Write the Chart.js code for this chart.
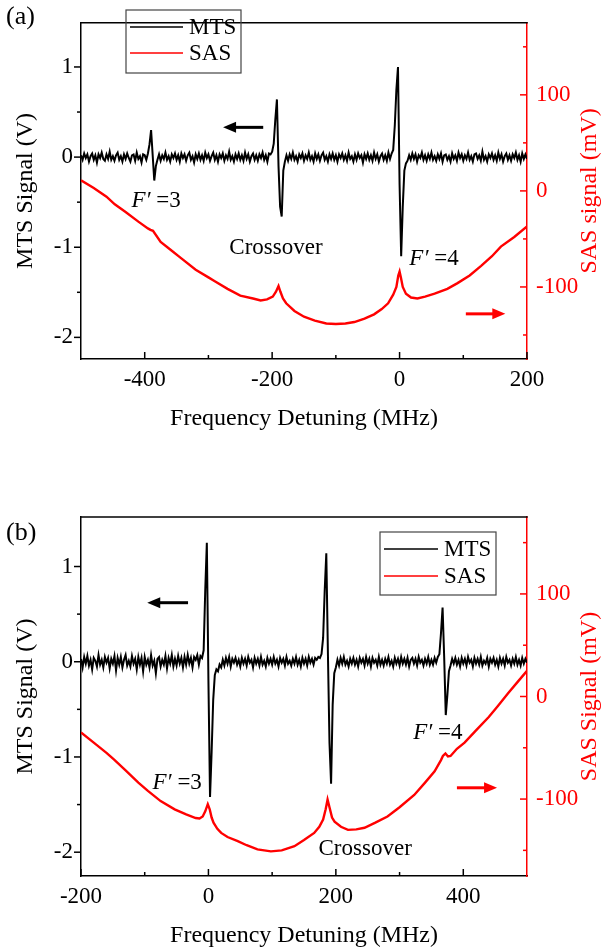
<!DOCTYPE html>
<html>
<head>
<meta charset="utf-8">
<script src="https://cdn.jsdelivr.net/npm/chart.js@4.4.1/dist/chart.umd.min.js"></script>
<style>
  html, body { margin: 0; padding: 0; background: #fff; }
  #wrap { position: relative; width: 602px; height: 951px; }
  canvas { position: absolute; left: 0; }
  #chartA { top: 0; }
  #chartB { top: 480px; }
</style>
</head>
<body>
<div id="wrap">
  <canvas id="chartA" width="602" height="480"></canvas>
  <canvas id="chartB" width="602" height="471"></canvas>
</div>
<script>
const FONT = '"Liberation Serif", "Times New Roman", serif';

// ---- panel (a) ----
const xTicksA = [-400, -200, 0, 200];
const xMinorA = [-300, -100, 100];

const mtsFreqA = [
  -500,-497.5,-495,-492.5,-490,-487.5,-485,-482.5,-480,-477.5,-475,-472.5,-470,-467.5,-465,-462.5,-460,-457.5,-455,-452.5,
  -450,-447.5,-445,-442.5,-440,-437.5,-435,-432.5,-430,-427.5,-425,-422.5,-420,-417.5,-415,-412.5,-410,-407.5,-405,-402.5,
  -400,-397.5,-395,-392.5,-390,-387.5,-385,-382.5,-380,-377.5,-375,-372.5,-370,-367.5,-365,-362.5,-360,-357.5,-355,-352.5,
  -350,-347.5,-345,-342.5,-340,-337.5,-335,-332.5,-330,-327.5,-325,-322.5,-320,-317.5,-315,-312.5,-310,-307.5,-305,-302.5,
  -300,-297.5,-295,-292.5,-290,-287.5,-285,-282.5,-280,-277.5,-275,-272.5,-270,-267.5,-265,-262.5,-260,-257.5,-255,-252.5,
  -250,-247.5,-245,-242.5,-240,-237.5,-235,-232.5,-230,-227.5,-225,-222.5,-220,-217.5,-215,-212.5,-210,-207.5,-205,-202.5,
  -200,-197.5,-195,-192.5,-190,-187.5,-185,-182.5,-180,-177.5,-175,-172.5,-170,-167.5,-165,-162.5,-160,-157.5,-155,-152.5,
  -150,-147.5,-145,-142.5,-140,-137.5,-135,-132.5,-130,-127.5,-125,-122.5,-120,-117.5,-115,-112.5,-110,-107.5,-105,-102.5,
  -100,-97.5,-95,-92.5,-90,-87.5,-85,-82.5,-80,-77.5,-75,-72.5,-70,-67.5,-65,-62.5,-60,-57.5,-55,-52.5,
  -50,-47.5,-45,-42.5,-40,-37.5,-35,-32.5,-30,-27.5,-25,-22.5,-20,-17.5,-15,-12.5,-10,-7.5,-5,-2.5,
  0,2.5,5,7.5,10,12.5,15,17.5,20,22.5,25,27.5,30,32.5,35,37.5,40,42.5,45,47.5,
  50,52.5,55,57.5,60,62.5,65,67.5,70,72.5,75,77.5,80,82.5,85,87.5,90,92.5,95,97.5,
  100,102.5,105,107.5,110,112.5,115,117.5,120,122.5,125,127.5,130,132.5,135,137.5,140,142.5,145,147.5,
  150,152.5,155,157.5,160,162.5,165,167.5,170,172.5,175,177.5,180,182.5,185,187.5,190,192.5,195,197.5,
  200
];
const mtsA = [
  0.02,-0.03,0.04,-0.01,0.03,-0.05,0.01,0.04,-0.03,0.02,-0.06,0.03,-0.01,0.05,-0.02,-0.04,0.03,-0.02,0.06,-0.03,
  0.01,-0.04,0.02,0.05,-0.03,0.01,-0.05,0.03,-0.02,0.04,-0.01,-0.05,0.02,0.03,-0.04,0.05,-0.02,0.01,-0.06,0.03,
  0.02,-0.03,0.04,0.14,0.30,0.02,-0.26,-0.10,-0.03,0.03,-0.04,0.02,-0.02,0.05,-0.03,0.01,-0.05,0.03,-0.01,0.04,
  -0.03,0.02,-0.05,0.04,-0.01,0.03,-0.04,0.02,0.05,-0.03,0.01,-0.06,0.03,-0.02,0.04,-0.03,0.02,-0.04,0.05,-0.01,
  0.03,-0.04,0.01,0.05,-0.03,0.02,-0.05,0.03,-0.01,0.04,-0.04,0.02,-0.02,0.06,-0.03,0.01,-0.05,0.03,-0.02,0.04,
  -0.03,0.02,-0.04,0.05,-0.02,0.03,-0.05,0.01,0.04,-0.03,0.02,-0.04,0.03,-0.01,0.05,-0.03,0.02,-0.05,0.04,0.03,
  0.06,0.15,0.42,0.64,-0.10,-0.55,-0.66,-0.15,-0.05,0.02,-0.04,0.03,-0.02,0.05,-0.03,0.01,-0.05,0.03,-0.01,0.04,
  -0.04,0.02,-0.02,0.05,-0.03,0.01,-0.05,0.04,-0.02,0.03,-0.04,0.02,0.05,-0.03,0.01,-0.05,0.03,-0.02,0.04,-0.03,
  0.02,-0.05,0.03,-0.01,0.04,-0.03,0.02,-0.04,0.05,-0.02,0.01,-0.05,0.03,-0.03,0.04,-0.01,0.02,-0.06,0.03,-0.02,
  0.04,-0.03,0.02,-0.04,0.05,-0.02,0.03,-0.05,0.01,0.04,-0.03,0.02,-0.04,0.05,-0.02,0.04,0.08,0.35,0.75,1.00,
  -0.30,-1.10,-0.55,-0.15,-0.07,-0.04,0.02,-0.03,0.04,-0.02,0.03,-0.05,0.02,-0.01,0.05,-0.03,0.02,-0.04,0.03,-0.02,
  0.05,-0.03,0.01,-0.04,0.03,-0.02,0.04,-0.05,0.02,0.03,-0.03,0.01,-0.05,0.04,-0.02,0.02,-0.04,0.05,-0.01,0.03,
  -0.04,0.02,-0.02,0.05,-0.03,0.01,-0.05,0.03,0.04,-0.02,0.02,-0.04,0.06,-0.03,0.01,-0.05,0.03,-0.01,0.04,-0.03,
  0.02,-0.04,0.05,-0.02,0.03,-0.05,0.01,0.04,-0.03,0.02,-0.04,0.03,-0.01,0.05,-0.03,0.02,-0.05,0.04,-0.02,0.03,
  -0.02
];

const sasFreqA = [-500,-480,-460,-447,-430,-410,-395,-391,-387,-375,-360,-343,-320,-300,-290,-270,-250,-230,-218,-208,
  -199,-194,-190,-187,-183,-178,-165,-150,-133,-115,-100,-85,-71,-55,-40,-28,-18,-10,-5,-2,
  0,2,5,10,18,28,40,55,75,91,110,128,145,159,180,200];
const sasA = [11,3,-6,-14,-22,-32,-39,-40.5,-41.5,-53,-61,-70,-82,-90,-94,-102,-109,-112,-114,-113,
  -110,-105,-99,-105,-112,-117,-125,-131,-135,-138,-138.5,-138,-136.5,-133,-128.5,-123,-117,-108,-100,-88,
  -84,-90,-100,-107,-111,-112,-110,-107,-102,-96,-88,-78,-68,-58,-48,-37];

// ---- panel (b) ----
const xTicksB = [-200, 0, 200, 400];
const xMinorB = [-100, 100, 300];

const mtsFreqB = [
  -200,-197.5,-195,-192.5,-190,-187.5,-185,-182.5,-180,-177.5,-175,-172.5,-170,-167.5,-165,-162.5,-160,-157.5,-155,-152.5,
  -150,-147.5,-145,-142.5,-140,-137.5,-135,-132.5,-130,-127.5,-125,-122.5,-120,-117.5,-115,-112.5,-110,-107.5,-105,-102.5,
  -100,-97.5,-95,-92.5,-90,-87.5,-85,-82.5,-80,-77.5,-75,-72.5,-70,-67.5,-65,-62.5,-60,-57.5,-55,-52.5,
  -50,-47.5,-45,-42.5,-40,-37.5,-35,-32.5,-30,-27.5,-25,-22.5,-20,-17.5,-15,-12.5,-10,-7.5,-5,-2.5,
  0,2.5,5,7.5,10,12.5,15,17.5,20,22.5,25,27.5,30,32.5,35,37.5,40,42.5,45,47.5,
  50,52.5,55,57.5,60,62.5,65,67.5,70,72.5,75,77.5,80,82.5,85,87.5,90,92.5,95,97.5,
  100,102.5,105,107.5,110,112.5,115,117.5,120,122.5,125,127.5,130,132.5,135,137.5,140,142.5,145,147.5,
  150,152.5,155,157.5,160,162.5,165,167.5,170,172.5,175,177.5,180,182.5,185,187.5,190,192.5,195,197.5,
  200,202.5,205,207.5,210,212.5,215,217.5,220,222.5,225,227.5,230,232.5,235,237.5,240,242.5,245,247.5,
  250,252.5,255,257.5,260,262.5,265,267.5,270,272.5,275,277.5,280,282.5,285,287.5,290,292.5,295,297.5,
  300,302.5,305,307.5,310,312.5,315,317.5,320,322.5,325,327.5,330,332.5,335,337.5,340,342.5,345,347.5,
  350,352.5,355,357.5,360,362.5,365,367.5,370,372.5,375,377.5,380,382.5,385,387.5,390,392.5,395,397.5,
  400,402.5,405,407.5,410,412.5,415,417.5,420,422.5,425,427.5,430,432.5,435,437.5,440,442.5,445,447.5,
  450,452.5,455,457.5,460,462.5,465,467.5,470,472.5,475,477.5,480,482.5,485,487.5,490,492.5,495,497.5,
  500
];
const mtsB = [
  0.03,-0.06,0.05,-0.02,0.06,-0.04,0.02,-0.08,0.04,0.01,-0.05,0.07,-0.03,0.02,-0.06,0.05,-0.01,0.04,-0.07,0.03,
  -0.02,0.06,-0.09,0.04,-0.03,0.05,-0.06,0.02,0.07,-0.04,0.01,-0.05,0.06,-0.02,0.03,-0.08,0.05,-0.03,0.04,-0.10,
  0.05,-0.03,0.02,-0.06,0.07,-0.04,0.01,-0.12,0.03,0.05,-0.05,0.02,-0.03,0.06,-0.07,0.04,-0.02,0.07,-0.05,0.03,
  -0.04,0.06,-0.02,0.04,-0.06,0.05,-0.03,0.07,-0.02,0.04,-0.06,0.05,0.02,0.07,-0.03,0.06,0.04,0.12,0.75,1.25,
  -0.20,-1.42,-0.95,-0.40,-0.14,-0.08,-0.10,-0.03,-0.06,0.02,-0.04,0.04,-0.02,0.05,-0.05,0.03,-0.01,0.04,-0.03,0.02,
  -0.05,0.04,-0.02,0.03,-0.04,0.05,-0.01,0.02,-0.06,0.04,-0.02,0.03,-0.04,0.05,-0.03,0.01,-0.05,0.04,-0.02,0.03,
  -0.03,0.05,-0.02,0.02,-0.05,0.04,-0.01,0.03,-0.04,0.05,-0.02,0.01,-0.04,0.03,-0.02,0.05,-0.03,0.02,-0.05,0.04,
  -0.02,0.03,-0.04,0.05,-0.01,0.03,-0.03,0.04,0.02,0.05,0.04,0.08,0.25,0.75,1.14,0.10,-0.85,-1.28,-0.45,-0.12,
  -0.06,0.02,-0.04,0.04,-0.02,0.05,-0.03,0.01,-0.05,0.03,-0.02,0.04,-0.03,0.02,-0.05,0.04,-0.01,0.03,-0.04,0.05,
  -0.02,0.03,-0.05,0.04,-0.01,0.02,-0.04,0.05,-0.03,0.02,-0.04,0.03,-0.02,0.05,-0.03,0.01,-0.05,0.04,-0.02,0.03,
  -0.04,0.05,-0.02,0.03,-0.03,0.04,-0.05,0.02,0.04,-0.02,0.03,-0.04,0.05,-0.01,0.02,-0.04,0.03,-0.02,0.05,-0.03,
  0.02,-0.03,0.04,-0.01,0.05,0.08,0.30,0.57,0.05,-0.56,-0.35,-0.10,-0.04,0.03,-0.02,0.04,-0.03,0.02,-0.05,0.04,
  -0.02,0.03,-0.04,0.05,-0.01,0.02,-0.05,0.04,-0.02,0.03,-0.03,0.05,-0.04,0.01,-0.02,0.04,-0.05,0.03,-0.01,0.04,
  -0.03,0.02,-0.05,0.04,-0.02,0.03,-0.04,0.05,-0.01,0.02,-0.04,0.03,-0.02,0.05,-0.03,0.02,-0.04,0.04,-0.02,0.03,
  -0.01
];

const sasFreqB = [-200,-180,-160,-148,-130,-110,-95,-75,-53,-35,-20,-14,-9,-5,-1,2,5,8,14,20,
  30,46,60,77,98,115,135,150,166,174,180,184,187,190,194,198,208,219,232,245,
  262,281,300,323,340,355,365,368,372,376,380,390,402,420,440,454,470,485,500];
const sasB = [-35,-45,-55,-61.5,-72,-84,-92,-102,-110,-115,-118.5,-119,-117,-112,-105,-110,-118,-123,-129,-133,
  -137,-141,-145,-149,-151,-150,-146,-140,-133,-127,-120,-110,-100.5,-108,-118,-122,-127,-130,-129.5,-128,
  -123,-117,-108,-96,-84,-73,-62,-58,-55.5,-58.5,-58,-51,-45,-33,-20,-9.5,3,14,25];

// shared axis ticks
const mtsTicks = [-2, -1, 0, 1];
const mtsMinor = [-1.5, -0.5, 0.5];
const sasTicks = [-100, 0, 100];
const sasMinor = [-150, -50, 50, 150];

// draws frame top, tick marks, legend, arrows, notes and titles
const decor = {
  id: 'decor',
  afterDraw(chart, args, o) {
    const { ctx, chartArea: a, scales } = chart;
    const sx = scales.x, sy = scales.y, sy1 = scales.y1;
    ctx.save();
    ctx.lineWidth = 1.5;
    ctx.strokeStyle = 'black';
    ctx.beginPath(); ctx.moveTo(a.left, a.top); ctx.lineTo(a.right + 0.75, a.top); ctx.stroke();

    const line = (x1, y1, x2, y2) => { ctx.beginPath(); ctx.moveTo(x1, y1); ctx.lineTo(x2, y2); ctx.stroke(); };
    o.xMajor.forEach(v => { const p = sx.getPixelForValue(v); line(p, a.bottom, p, a.bottom - 7); });
    o.xMinor.forEach(v => { const p = sx.getPixelForValue(v); line(p, a.bottom, p, a.bottom - 4); });
    mtsTicks.forEach(v => { const p = sy.getPixelForValue(v); line(a.left, p, a.left - 7, p); });
    mtsMinor.forEach(v => { const p = sy.getPixelForValue(v); line(a.left, p, a.left - 4, p); });
    ctx.strokeStyle = 'red';
    sasTicks.forEach(v => { const p = sy1.getPixelForValue(v); line(a.right, p, a.right - 7, p); });
    sasMinor.forEach(v => { const p = sy1.getPixelForValue(v); line(a.right, p, a.right - 4, p); });

    // legend
    const lg = o.legend;
    ctx.strokeStyle = '#444'; ctx.lineWidth = 1.2;
    ctx.strokeRect(lg.x, lg.y, lg.w, lg.h);
    const items = chart.data.datasets.slice().sort((p, q) => p.order - q.order);
    ctx.font = '23px ' + FONT;
    ctx.textBaseline = 'middle'; ctx.textAlign = 'left';
    items.forEach((d, i) => {
      const yy = lg.y + lg.rows[i];
      ctx.strokeStyle = d.borderColor; ctx.lineWidth = 1.6;
      line(lg.x + 4, yy, lg.x + lg.line, yy);
      ctx.fillStyle = 'black';
      ctx.fillText(d.label, lg.x + lg.line + 6, yy + 1);
    });

    // arrows
    o.arrows.forEach(ar => {
      const ys = ar.axis === 'y1' ? sy1 : sy;
      const x1 = sx.getPixelForValue(ar.from), x2 = sx.getPixelForValue(ar.to), yy = ys.getPixelForValue(ar.y);
      const dir = Math.sign(x2 - x1);
      ctx.strokeStyle = ar.color; ctx.fillStyle = ar.color; ctx.lineWidth = 3;
      line(x1, yy, x2 - dir * 10, yy);
      ctx.beginPath();
      ctx.moveTo(x2, yy); ctx.lineTo(x2 - dir * 13, yy - 5.5); ctx.lineTo(x2 - dir * 13, yy + 5.5); ctx.closePath(); ctx.fill();
    });

    // notes
    ctx.fillStyle = 'black';
    ctx.textBaseline = 'middle';
    o.notes.forEach(n => {
      const cx = sx.getPixelForValue(n.x), cy = sy.getPixelForValue(n.y);
      const parts = n.italic ? [['italic 23px ' + FONT, 'F\u2032'], ['23px ' + FONT, ' =' + n.text]] : [['23px ' + FONT, n.text]];
      let w = 0;
      parts.forEach(p => { ctx.font = p[0]; w += ctx.measureText(p[1]).width; });
      let xx = cx - w / 2;
      ctx.textAlign = 'left';
      parts.forEach(p => { ctx.font = p[0]; ctx.fillText(p[1], xx, cy); xx += ctx.measureText(p[1]).width; });
    });

    // panel label
    ctx.font = '26px ' + FONT; ctx.textAlign = 'left';
    ctx.fillText(o.panel, 6, o.panelY);

    // axis titles
    const midY = (a.top + a.bottom) / 2;
    ctx.font = '24px ' + FONT; ctx.textAlign = 'center'; ctx.textBaseline = 'alphabetic';
    ctx.fillText('Frequency Detuning (MHz)', (a.left + a.right) / 2, a.bottom + o.xTitleOff);
    ctx.save(); ctx.translate(32, midY); ctx.rotate(-Math.PI / 2);
    ctx.fillText('MTS Signal (V)', 0, 0); ctx.restore();
    ctx.save(); ctx.translate(596, midY); ctx.rotate(-Math.PI / 2);
    ctx.fillStyle = 'red'; ctx.fillText(o.rightTitle, 0, 0); ctx.restore();
    ctx.restore();
  }
};

function buildChart(id, p) {
  const tickFont = { family: FONT, size: 23 };
  return new Chart(document.getElementById(id), {
    type: 'line',
    data: {
      datasets: [
        { label: 'MTS', order: 1, yAxisID: 'y', borderColor: 'black', borderWidth: 2, pointRadius: 0,
          data: p.mtsFreq.map((f, i) => ({ x: f, y: p.mts[i] })) },
        { label: 'SAS', order: 2, yAxisID: 'y1', borderColor: 'red', borderWidth: 2.4, pointRadius: 0,
          data: p.sasFreq.map((f, i) => ({ x: f, y: p.sas[i] })) }
      ]
    },
    options: {
      responsive: false,
      animation: false,
      events: [],
      layout: { padding: { top: p.top, left: 0, right: 0, bottom: 0 } },
      plugins: { legend: { display: false }, tooltip: { enabled: false }, decor: p.decor },
      scales: {
        x: {
          type: 'linear', min: p.xMin, max: p.xMax,
          afterBuildTicks: s => { s.ticks = p.xTicks.map(v => ({ value: v })); },
          afterFit: s => { s.height = p.xHeight; },
          grid: { display: false, drawTicks: false },
          border: { color: 'black', width: 1.5 },
          ticks: { font: tickFont, color: 'black', padding: 7, maxRotation: 0, autoSkip: false }
        },
        y: {
          position: 'left', min: p.yMin, max: p.yMax,
          afterBuildTicks: s => { s.ticks = mtsTicks.map(v => ({ value: v })); },
          afterFit: s => { s.width = 81; },
          grid: { display: false, drawTicks: false },
          border: { color: 'black', width: 1.5 },
          ticks: { font: tickFont, color: 'black', padding: 8 }
        },
        y1: {
          position: 'right', min: -175, max: 175,
          afterBuildTicks: s => { s.ticks = sasTicks.map(v => ({ value: v })); },
          afterFit: s => { s.width = 75; },
          grid: { display: false, drawTicks: false },
          border: { color: 'red', width: 1.5 },
          ticks: { font: tickFont, color: 'red', padding: 9 }
        }
      }
    },
    plugins: [decor]
  });
}

buildChart('chartA', {
  mtsFreq: mtsFreqA, mts: mtsA, sasFreq: sasFreqA, sas: sasA,
  xMin: -500, xMax: 200, xTicks: xTicksA, yMin: -2.24, yMax: 1.49,
  top: 1, xHeight: 121,
  decor: {
    xMajor: xTicksA, xMinor: xMinorA, panel: '(a)', panelY: 17, xTitleOff: 66,
    rightTitle: 'SAS signal (mV)',
    legend: { x: 126, y: 10, w: 115, h: 63, line: 57, rows: [17, 43] },
    arrows: [
      { from: -214, to: -277, y: 0.33, axis: 'y', color: 'black' },
      { from: 104, to: 166, y: -128, axis: 'y1', color: 'red' }
    ],
    notes: [
      { x: -382, y: -0.49, italic: true, text: '3' },
      { x: -194, y: -1.01, italic: false, text: 'Crossover' },
      { x: 54, y: -1.125, italic: true, text: '4' }
    ]
  }
});

buildChart('chartB', {
  mtsFreq: mtsFreqB, mts: mtsB, sasFreq: sasFreqB, sas: sasB,
  xMin: -200, xMax: 500, xTicks: xTicksB, yMin: -2.25, yMax: 1.52,
  top: 37, xHeight: 75,
  decor: {
    xMajor: xTicksB, xMinor: xMinorB, panel: '(b)', panelY: 53, xTitleOff: 66,
    rightTitle: 'SAS Signal (mV)',
    legend: { x: 380, y: 52, w: 116, h: 63, line: 58, rows: [17, 44] },
    arrows: [
      { from: -32, to: -96, y: 0.62, axis: 'y', color: 'black' },
      { from: 390, to: 453, y: -89, axis: 'y1', color: 'red' }
    ],
    notes: [
      { x: -49, y: -1.27, italic: true, text: '3' },
      { x: 246, y: -1.97, italic: false, text: 'Crossover' },
      { x: 360, y: -0.745, italic: true, text: '4' }
    ]
  }
});
</script>
</body>
</html>
